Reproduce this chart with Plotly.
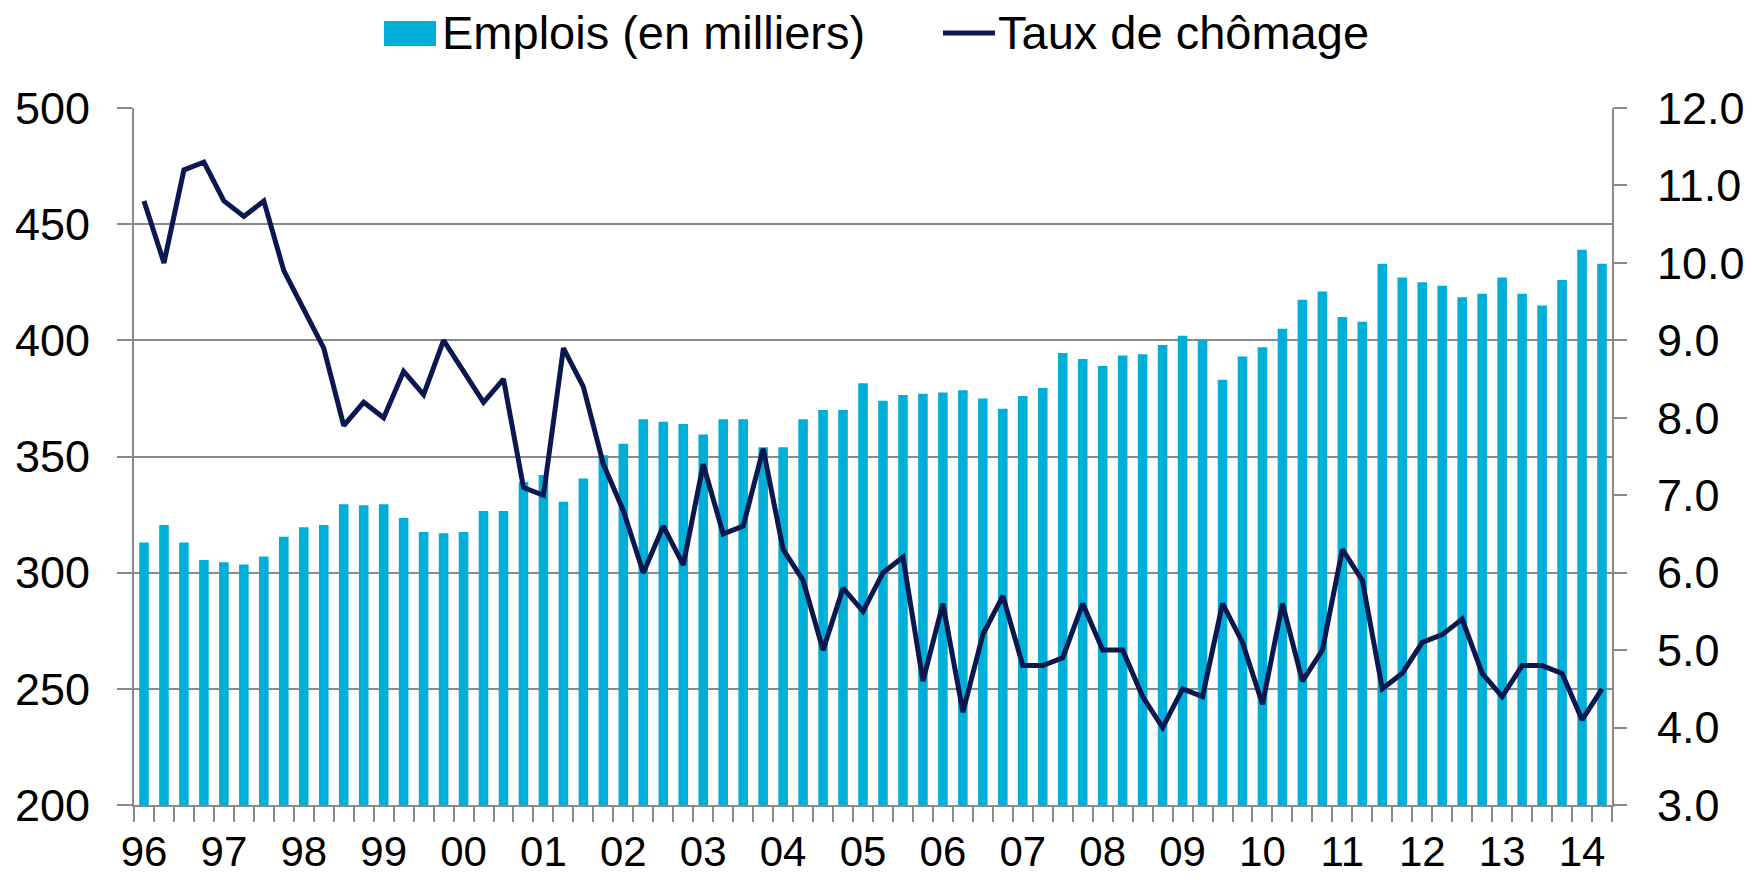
import plotly.graph_objects as go

year_labels = ["96", "97", "98", "99", "00", "01", "02", "03", "04", "05",
               "06", "07", "08", "09", "10", "11", "12", "13", "14"]

# Quarterly employment (thousands), 1996 Q1 - 2014 Q2
emplois = [313, 320.5, 313, 305.5, 304.5, 303.5, 307, 315.5,
           319.5, 320.5, 329.5, 329, 329.5, 323.5, 317.5, 317,
           317.5, 326.5, 326.5, 339, 342, 330.5, 340.5, 350.5,
           355.5, 366, 365, 364, 359.5, 366, 366, 354,
           354, 366, 370, 370, 381.5, 374, 376.5, 377,
           377.5, 378.5, 375, 370.5, 376, 379.5, 394.5, 392,
           389, 393.5, 394, 398, 402, 400, 383, 393,
           397, 405, 417.5, 421, 410, 408, 433, 427,
           425, 423.5, 418.5, 420, 427, 420, 415, 426,
           439, 433]

# Quarterly unemployment rate (%)
chomage = [10.8, 10.0, 11.2, 11.3, 10.8, 10.6, 10.8, 9.9,
           9.4, 8.9, 7.9, 8.2, 8.0, 8.6, 8.3, 9.0,
           8.6, 8.2, 8.5, 7.1, 7.0, 8.9, 8.4, 7.4,
           6.8, 6.0, 6.6, 6.1, 7.4, 6.5, 6.6, 7.6,
           6.3, 5.9, 5.0, 5.8, 5.5, 6.0, 6.2, 4.6,
           5.6, 4.2, 5.2, 5.7, 4.8, 4.8, 4.9, 5.6,
           5.0, 5.0, 4.4, 4.0, 4.5, 4.4, 5.6, 5.1,
           4.3, 5.6, 4.6, 5.0, 6.3, 5.9, 4.5, 4.7,
           5.1, 5.2, 5.4, 4.7, 4.4, 4.8, 4.8, 4.7,
           4.1, 4.5]

series_names = ["Emplois (en milliers)", "Taux de chômage"]

n = len(emplois)
x = list(range(n))
label_pos = [4 * i for i in range(len(year_labels))]

FONT = "Liberation Sans, Arial, sans-serif"
GRID = "#8a8a8a"
BAR = "#00AFD8"
LINE = "#0B1850"

# The page body has an 8px margin: size the figure so it fits the window
OFF = 8
W, H = 1752 - 2 * OFF, 880 - 2 * OFF
ML, MT = 134 - OFF, 108 - OFF
MR = W - (1612 - OFF)
MB = H - (805 - OFF)
PW, PH = W - ML - MR, H - MT - MB


def px_x(p):
    return (p - OFF - ML) / PW


def px_y(p):
    return (H - MB - (p - OFF)) / PH


fig = go.Figure()
fig.add_trace(go.Bar(
    x=x, y=emplois, name=series_names[0],
    marker=dict(color=BAR, line=dict(width=0)),
    yaxis="y", showlegend=False,
))
fig.add_trace(go.Scatter(
    x=x, y=chomage, name=series_names[1], mode="lines",
    line=dict(color=LINE, width=5),
    yaxis="y2", showlegend=False,
))

# Legend drawn at the top (symbols + text)
shapes = [
    dict(type="rect", xref="paper", yref="paper",
         x0=px_x(384), x1=px_x(436), y0=px_y(46), y1=px_y(21),
         fillcolor=BAR, line=dict(width=0), layer="above"),
    dict(type="line", xref="paper", yref="paper",
         x0=px_x(943), x1=px_x(995), y0=px_y(33), y1=px_y(33),
         line=dict(color=LINE, width=5)),
]
annotations = [
    dict(text=series_names[0], xref="paper", yref="paper",
         x=px_x(440), y=px_y(33), xanchor="left", yanchor="middle",
         showarrow=False, font=dict(size=47, color="black", family=FONT)),
    dict(text=series_names[1], xref="paper", yref="paper",
         x=px_x(996), y=px_y(33), xanchor="left", yanchor="middle",
         showarrow=False, font=dict(size=47, color="black", family=FONT)),
]

fig.update_layout(
    template="none",
    width=W, height=H,
    margin=dict(l=ML, r=MR, t=MT, b=MB, pad=0),
    paper_bgcolor="white", plot_bgcolor="white",
    font=dict(family=FONT, size=45, color="black"),
    bargap=0.52,
    showlegend=False,
    shapes=shapes,
    annotations=annotations,
    xaxis=dict(
        range=[-0.5, n - 0.5], automargin=False,
        tickmode="array", tickvals=label_pos, ticktext=year_labels,
        ticks="", showgrid=False, zeroline=False,
        showline=True, linecolor=GRID, linewidth=2,
        ticklabelstandoff=9,
        tickfont=dict(size=42),
        minor=dict(tickmode="linear", tick0=-0.5, dtick=1, ticks="outside",
                   ticklen=15, tickwidth=2, tickcolor=GRID, showgrid=False),
    ),
    yaxis=dict(
        range=[200, 500], tickmode="linear", tick0=200, dtick=50, automargin=False,
        showgrid=True, gridcolor=GRID, gridwidth=2,
        showline=True, linecolor=GRID, linewidth=2,
        ticks="outside", ticklen=15, tickwidth=2, tickcolor=GRID,
        ticklabelstandoff=18, zeroline=False,
        tickfont=dict(size=45),
    ),
    yaxis2=dict(
        range=[3, 12], tickmode="linear", tick0=3, dtick=1, tickformat=".1f",
        overlaying="y", side="right", showgrid=False, zeroline=False, automargin=False,
        showline=True, linecolor=GRID, linewidth=2,
        ticks="outside", ticklen=13, tickwidth=2, tickcolor=GRID,
        ticklabelstandoff=21,
        tickfont=dict(size=45),
    ),
)

fig.write_html("out.html")
